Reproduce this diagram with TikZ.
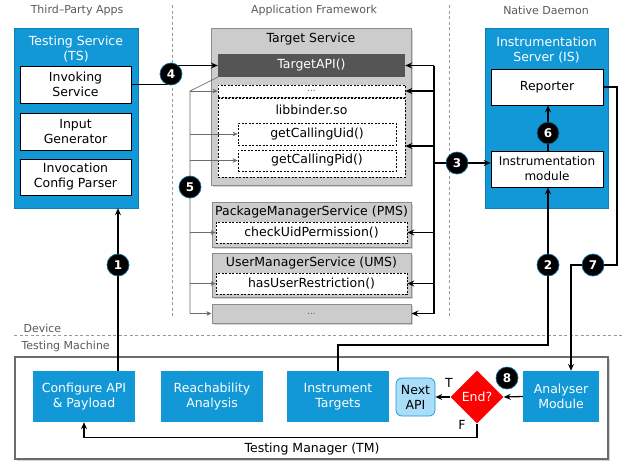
\documentclass[tikz,border=0pt]{standalone}
\usepackage{fontspec}
\setmainfont{DejaVu Sans}
\usetikzlibrary{arrows.meta,shapes.geometric,shadows,calc}
\definecolor{bblue}{RGB}{18,152,215}
\definecolor{gbox}{RGB}{204,204,204}
\definecolor{gborder}{RGB}{140,140,140}
\definecolor{darkapi}{RGB}{85,85,85}
\definecolor{nextblue}{RGB}{170,222,248}
\definecolor{hdrgray}{RGB}{90,90,90}
\begin{document}
\begin{tikzpicture}[x=1pt,y=-1pt,
  fnt/.style={font=\fontsize{12.5}{15}\selectfont},
  box/.style={inner sep=0pt, align=center, fnt},
  bluebox/.style={box, fill=bblue, draw=bblue!85!black, line width=0.5pt},
  whitebox/.style={box, fill=white, draw=black, line width=0.8pt},
  graybox/.style={box, fill=gbox, draw=gborder, line width=1pt,
     drop shadow={shadow xshift=1.5pt, shadow yshift=-1.5pt, opacity=0.35}},
  dashbox/.style={box, fill=white, draw=black, dash pattern=on 2pt off 1.5pt, line width=0.7pt},
  tmnode/.style={box, fill=bblue, text=white, minimum width=102pt, minimum height=51pt},
  badge/.style={circle, fill=black, draw=bblue!70!black, line width=0.7pt, text=white,
     font=\bfseries\fontsize{12}{12}\selectfont, minimum size=22pt, inner sep=0pt},
  arr/.style={-{Stealth[length=7pt,width=6pt,inset=2.5pt]}, line width=1.3pt},
  bline/.style={line width=1.3pt},
  gline/.style={line width=0.7pt, draw=gray!85!black},
  garr/.style={gline, -{Stealth[length=5pt,width=4.5pt,inset=1.5pt]}},
  hdr/.style={text=hdrgray, font=\fontsize{11}{13}\selectfont},
  sep/.style={draw=gray!80, line width=0.8pt, dash pattern=on 3pt off 2.5pt},
  dots/.style={text=gray!80!black, font=\fontsize{9}{9}\selectfont}
]
\path[use as bounding box] (0,0) rectangle (623,464);

% headers and separators
\node[hdr] (h1) at (77,10) {Third–Party Apps};
\node[hdr] (h2) at (314,10) {Application Framework};
\node[hdr] (h3) at (546,10) {Native Daemon};
\draw[sep] (172,5) -- (172,318);
\draw[sep] (449,5) -- (449,318);
\draw[sep] (14,335) -- (623,335);
\node[hdr, anchor=west] (dev) at (20,328) {Device};
\node[hdr, anchor=west] (tmach) at (18,346) {Testing Machine};

% Testing Service
\node[bluebox, minimum width=124pt, minimum height=180pt] (ts) at (76,118) {};
\node[box, text=white] (tsT) at (76,49) {Testing Service\\(TS)};
\node[whitebox, minimum width=111pt, minimum height=37pt] (inv) at (75.5,84.5) {Invoking\\Service};
\node[whitebox, minimum width=111pt, minimum height=37pt] (gen) at (75.5,131.5) {Input\\Generator};
\node[whitebox, minimum width=111pt, minimum height=36pt] (cfg) at (75.5,177) {Invocation\\Config Parser};

% Target Service
\node[graybox, minimum width=200pt, minimum height=157pt] (tgt) at (311,106.5) {};
\node[box] (tgtT) at (311,39) {Target Service};
\node[box, fill=darkapi, text=white, minimum width=187pt, minimum height=23pt] (api) at (311.5,65.5) {TargetAPI()};
\node[dashbox, minimum width=187pt, minimum height=12pt] (d1) at (311.5,91) {};
\node[dots] at (d1) {...};
\node[dashbox, minimum width=187pt, minimum height=79pt] (lib) at (311.5,137.5) {};
\node[box] (libT) at (311.5,110) {libbinder.so};
\node[dashbox, minimum width=158pt, minimum height=22pt] (uid) at (317,134) {getCallingUid()};
\node[dashbox, minimum width=158pt, minimum height=21pt] (pid) at (317,160.5) {getCallingPid()};

% PMS / UMS / ...
\node[graybox, minimum width=199pt, minimum height=45pt] (pms) at (311.5,224.5) {};
\node[box] (pmsT) at (311.5,212) {PackageManagerService (PMS)};
\node[dashbox, minimum width=191pt, minimum height=21pt] (pmsin) at (311.5,232.5) {checkUidPermission()};
\node[graybox, minimum width=199pt, minimum height=44pt] (ums) at (311.5,275) {};
\node[box] (umsT) at (311.5,263) {UserManagerService (UMS)};
\node[dashbox, minimum width=191pt, minimum height=21pt] (umsin) at (311.5,283.5) {hasUserRestriction()};
\node[graybox, minimum width=199pt, minimum height=19pt] (d2) at (311.5,313.5) {};
\node[dots] at (d2) {...};

% Instrumentation Server
\node[bluebox, minimum width=123pt, minimum height=180pt] (is) at (546.5,118) {};
\node[box, text=white] (isT) at (546.5,50) {Instrumentation\\Server (IS)};
\node[whitebox, minimum width=112pt, minimum height=36pt] (rep) at (547,87) {Reporter};
\node[whitebox, minimum width=112pt, minimum height=36pt, font=\fontsize{12}{15}\selectfont] (mod) at (547,169) {Instrumentation\\module};

% Testing Manager
\node[box, fill=white, draw=gray!85!black, line width=1.2pt, minimum width=593pt, minimum height=102pt,
      drop shadow={shadow xshift=2pt, shadow yshift=-2pt, opacity=0.35}] (tm) at (311.5,408) {};
\node[box] (tmT) at (312,449) {Testing Manager (TM)};
\node[tmnode] (cap) at (84,396.5) {Configure API\\\& Payload};
\node[tmnode] (reach) at (212,396.5) {Reachability\\Analysis};
\node[tmnode] (instr) at (338,396.5) {Instrument\\Targets};
\node[tmnode, minimum width=76pt] (ana) at (561,396.5) {Analyser\\Module};
\node[box, fill=nextblue, draw=bblue, line width=0.7pt, rounded corners=6pt,
      minimum width=39pt, minimum height=38pt] (next) at (415.5,397) {Next\\API};
\node[diamond, aspect=1, fill=red, text=white, inner sep=0pt, minimum width=53pt,
      minimum height=53pt, fnt] (end) at (477,397) {End?};
\node[fnt] (lt) at (449,383) {T};
\node[fnt] (lf) at (462,425) {F};

% coordinates for badges / bends
\coordinate (p1) at (118,265);
\coordinate (p2) at (548,265);
\coordinate (p3) at (457,163);
\coordinate (p4) at (171,74);
\coordinate (p5) at (190,187);
\coordinate (p6) at (548,133);
\coordinate (p7) at (593,265);
\coordinate (p8) at (507,378);
\coordinate (f5) at (190,91);
\coordinate (bus) at (434,163);
\coordinate (c2) at (548,345);
\coordinate (c7a) at (617,265);
\coordinate (c7b) at (571,265);

% 4
\draw[arr] (inv.east) -| (p4) |- (api.west);
% 5
\draw[gline] (api.south west) -- (f5) -- (f5 |- d2.west);
\draw[garr] (f5) -- (d1.west);
\draw[garr] (f5 |- uid.west) -- (uid.west);
\draw[garr] (f5 |- pid.west) -- (pid.west);
\draw[garr] (f5 |- pmsin.west) -- (pmsin.west);
\draw[garr] (f5 |- umsin.west) -- (umsin.west);
\draw[garr] (f5 |- d2.west) -- (d2.west);
% 3
\draw[bline] (bus |- api.east) -- (bus |- d2.east);
\draw[arr] (bus |- api.east) -- (api.east);
\draw[arr] (bus |- d1.east) -- (d1.east);
\draw[arr] ($(bus |- lib.east)+(0,8.5)$) -- ($(lib.east)+(0,8.5)$);
\draw[arr] (bus |- pmsin.east) -- (pmsin.east);
\draw[arr] (bus |- umsin.east) -- (umsin.east);
\draw[arr] (bus |- d2.east) -- (d2.east);
\draw[arr] (bus) -- (p3) -- (p3 -| mod.west);
% 6
\draw[arr] (p6 |- mod.north) -- (p6 |- rep.south);
% 2
\draw[arr] (instr.north) |- (c2) -- (c2 |- mod.south);
% 7
\draw[arr] (rep.east) -| (c7a) -- (c7b) -- (c7b |- ana.north);
% 1
\draw[arr] (p1 |- cap.north) -- (p1 |- ts.south);
% 8
\draw[arr] (ana.west) -- (end.east);
\draw[arr] (end.west) -- (next.east);
\draw[arr] (end.south) -- ++(0,14) -| (cap.south);

% badges
\node[badge] (b1) at (p1) {1};
\node[badge] (b2) at (p2) {2};
\node[badge] (b3) at (p3) {3};
\node[badge] (b4) at (p4) {4};
\node[badge] (b5) at (p5) {5};
\node[badge] (b6) at (p6) {6};
\node[badge] (b7) at (p7) {7};
\node[badge] (b8) at (p8) {8};
\end{tikzpicture}
\end{document}
